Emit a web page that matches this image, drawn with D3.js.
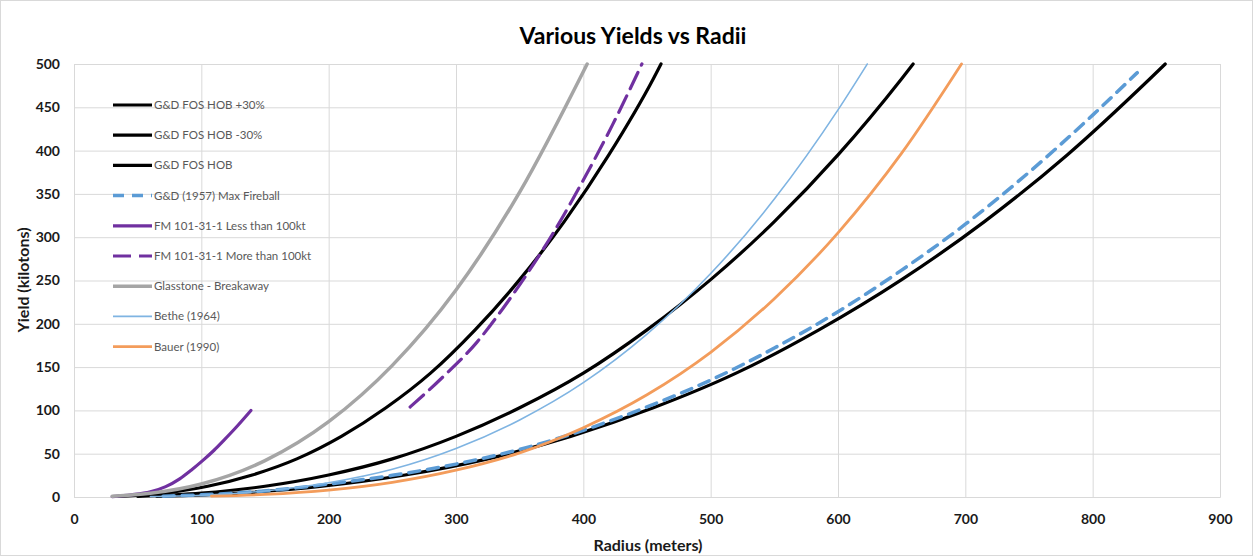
<!DOCTYPE html>
<html>
<head>
<meta charset="utf-8">
<script src="https://cdn.jsdelivr.net/npm/d3@7"></script>
<style>
  body { margin: 0; background: #fff; }
  text { font-family: Lato, "Liberation Sans", sans-serif; }
</style>
</head>
<body>
<script>
// ---- data: [radius (m), yield (kt)] ----
var fosHobPlus30 = [[65,0.8],[130,4.5],[195,12.4],[260,25.4],[325,44],[390,70],[455,103],[520,143],[585,193],[650,251],[715,318],[780,395],[845,483],[857,500]];
var fosHobMinus30 = [[35,0.8],[70,4.5],[105,12.4],[140,25.4],[175,44],[210,70],[245,103],[280,143],[315,193],[350,251],[385,318],[420,395],[455,483],[461,500]];
var fosHob = [[50,0.8],[100,4.5],[150,12.4],[200,25.4],[250,44],[300,70],[350,103],[400,143],[450,193],[500,251],[550,318],[600,395],[650,483],[659,500]];
var maxFireball = [[70,1],[100,2.5],[150,7],[200,15],[250,25],[300,38],[350,55],[400,77],[450,104],[500,135],[550,172],[600,214],[650,262],[700,315],[750,375],[800,441],[835,490]];
var fmLess100 = [[30,0.5],[45,2.5],[60,6],[72,12],[83,21],[92,31],[101,42],[110,54],[118,66],[127,80],[139,100]];
var fmMore100 = [[264,104],[290,139],[316,178],[337,218],[356,258],[376,304],[400,366],[423,430],[446,500]];
var glasstone = [[30,0.8],[60,4.3],[100,15],[150,42],[200,87],[250,152],[300,239],[350,352],[403,500]];
var bethe = [[60,0.5],[100,2],[150,7],[200,16.5],[250,32],[300,56],[350,89],[400,132],[450,188],[500,258],[550,344],[600,447],[623,500]];
var bauer = [[108,1],[150,3],[200,8],[250,17],[300,31],[350,51],[400,80],[450,118],[500,167],[550,229],[600,305],[650,397],[697,500]];

var seriesNames = ["G&D FOS HOB +30%", "G&D FOS HOB -30%", "G&D FOS HOB", "G&D (1957) Max Fireball",
  "FM 101-31-1 Less than 100kt", "FM 101-31-1 More than 100kt", "Glasstone - Breakaway", "Bethe (1964)", "Bauer (1990)"];
var seriesData = [fosHobPlus30, fosHobMinus30, fosHob, maxFireball, fmLess100, fmMore100, glasstone, bethe, bauer];

var xTicks = [0,100,200,300,400,500,600,700,800,900];
var yTicks = [0,50,100,150,200,250,300,350,400,450,500];

// line styles, same order as series
var styles = [
  {color:"#000000", w:3.2, dash:null},
  {color:"#000000", w:3.2, dash:null},
  {color:"#000000", w:3.2, dash:null},
  {color:"#5b9bd5", w:3.5, dash:"11,8"},
  {color:"#7030a0", w:3.2, dash:null},
  {color:"#7030a0", w:3.2, dash:"18,8"},
  {color:"#a5a5a5", w:3.5, dash:null},
  {color:"#7fb4e2", w:1.6, dash:null},
  {color:"#f39c5b", w:2.8, dash:null}
];

var W = 1253, H = 556;
var plotLeft = 74, plotRight = 1220, plotTop = 64, plotBottom = 497;

var svg = d3.select("body").append("svg")
    .attr("width", W)
    .attr("height", H);

svg.append("rect")
    .attr("x", 0.5).attr("y", 0.5)
    .attr("width", W - 1).attr("height", H - 1)
    .attr("fill", "#fff")
    .attr("stroke", "#d9d9d9");

var x = d3.scaleLinear().domain([0, 900]).range([plotLeft, plotRight]);
var y = d3.scaleLinear().domain([0, 500]).range([plotBottom, plotTop]);

//****************************** Axes / grid ***********************************
var gx = svg.append("g")
    .attr("transform", "translate(0," + plotBottom + ")")
    .call(d3.axisBottom(x).tickValues(xTicks).tickSize(-(plotBottom - plotTop)).tickPadding(17));
var gy = svg.append("g")
    .attr("transform", "translate(" + plotLeft + ",0)")
    .call(d3.axisLeft(y).tickValues(yTicks).tickSize(-(plotRight - plotLeft)).tickPadding(14));

[gx, gy].forEach(function(g){
  g.selectAll(".tick line").attr("stroke", "#d9d9d9");
  g.select(".domain").attr("stroke", "#d9d9d9");
  g.selectAll(".tick text")
      .attr("font-family", "Lato, 'Liberation Sans', sans-serif")
      .attr("font-size", "14px")
      .attr("font-weight", "bold")
      .attr("fill", "#1a1a1a");
});

//****************************** Lines *****************************************
var line = d3.line()
    .x(function(d){ return x(d[0]); })
    .y(function(d){ return y(d[1]); })
    .curve(d3.curveMonotoneX);

svg.append("g").selectAll("path")
    .data(seriesData)
    .enter().append("path")
      .attr("d", line)
      .attr("fill", "none")
      .attr("stroke", function(d,i){ return styles[i].color; })
      .attr("stroke-width", function(d,i){ return styles[i].w; })
      .attr("stroke-dasharray", function(d,i){ return styles[i].dash; })
      .attr("stroke-linecap", "round")
      .attr("stroke-linejoin", "round");

//****************************** Legend ****************************************
var legend = svg.append("g").selectAll("g")
    .data(seriesNames)
    .enter().append("g")
      .attr("transform", function(d,i){ return "translate(113," + (105 + i*30.2) + ")"; });

legend.append("line")
    .attr("x1", 0).attr("x2", 39)
    .attr("stroke", function(d,i){ return styles[i].color; })
    .attr("stroke-width", function(d,i){ return styles[i].w; })
    .attr("stroke-dasharray", function(d,i){ return styles[i].dash; });

legend.append("text")
    .attr("x", 41)
    .attr("dy", "0.35em")
    .attr("font-size", "11.5px")
    .attr("fill", "#595959")
    .text(function(d){ return d; });

//****************************** Titles ****************************************
svg.append("text")
    .attr("x", 633).attr("y", 44)
    .attr("text-anchor", "middle")
    .attr("font-size", "23px")
    .attr("font-weight", "bold")
    .attr("fill", "#000")
    .text("Various Yields vs Radii");

svg.append("text")
    .attr("x", 648).attr("y", 551)
    .attr("text-anchor", "middle")
    .attr("font-size", "16px")
    .attr("font-weight", "bold")
    .attr("fill", "#1a1a1a")
    .text("Radius (meters)");

svg.append("text")
    .attr("transform", "translate(29,280) rotate(-90)")
    .attr("text-anchor", "middle")
    .attr("font-size", "16px")
    .attr("font-weight", "bold")
    .attr("fill", "#1a1a1a")
    .text("Yield (kilotons)");
</script>
</body>
</html>
